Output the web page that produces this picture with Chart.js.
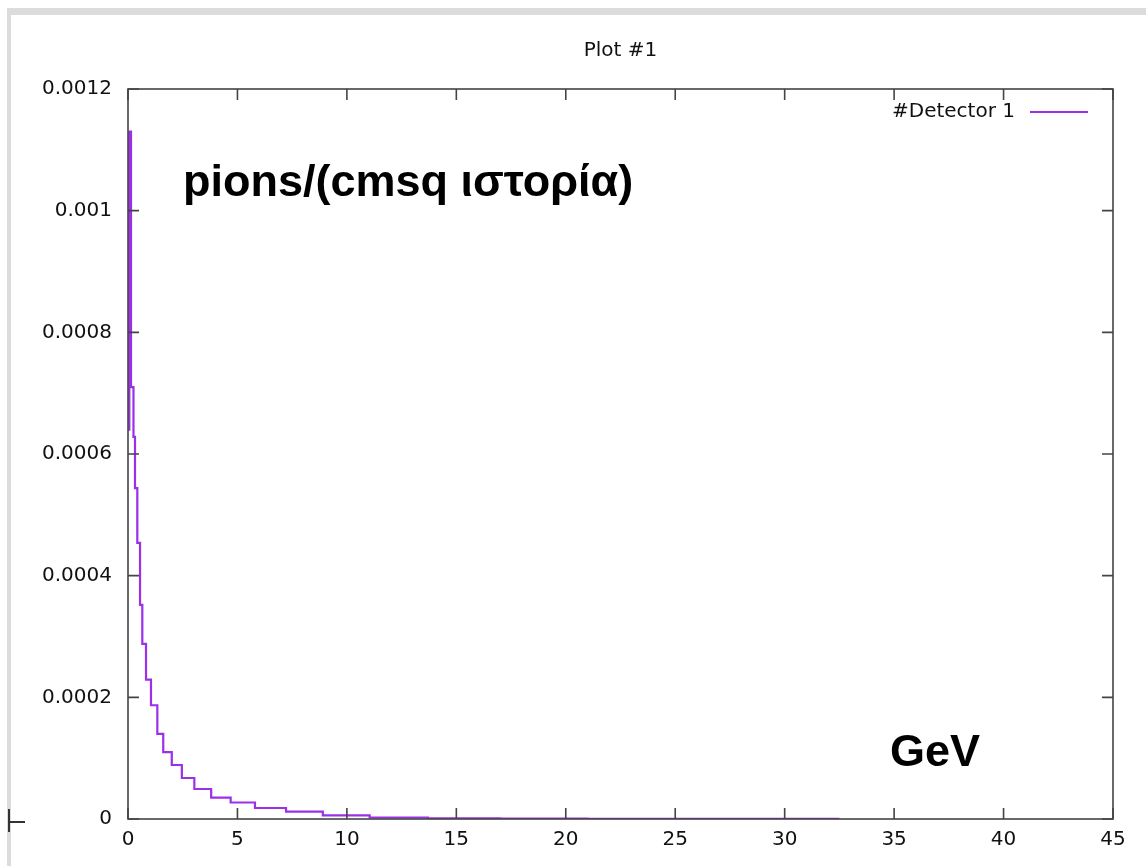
<!DOCTYPE html>
<html>
<head>
<meta charset="utf-8">
<script src="https://cdn.jsdelivr.net/npm/chart.js@4.4.1/dist/chart.umd.min.js"></script>
<style>
  html, body { margin: 0; padding: 0; background: #fff; }
  #wrap { width: 1146px; height: 866px; }
</style>
</head>
<body>
<div id="wrap"><canvas id="plot"></canvas></div>
<script>
// histogram bins (left edges, last entry is the right edge of the last bin)
const binEdges = [0.02, 0.06, 0.137, 0.25, 0.32, 0.425, 0.55, 0.654, 0.823, 1.05, 1.34, 1.61, 2.0, 2.46,
  3.03, 3.8, 4.69, 5.8, 7.22, 8.9, 11.04, 13.7, 17.0, 21.0, 26.2, 32.5];
const binValues = [0.00064, 0.00113, 0.00071, 0.000628, 0.000544, 0.000454, 0.000352, 0.000288, 0.000229,
  0.000187, 0.000140, 0.000110, 0.0000888, 0.0000674, 0.0000493, 0.0000353, 0.0000271, 0.0000181,
  0.0000120, 0.0000058, 0.0000025, 0.0000012, 0.0000007, 0.0000004, 0.0000002];
const xTickLabels = ['0', '5', '10', '15', '20', '25', '30', '35', '40', '45'];
const yTickLabels = ['0', '0.0002', '0.0004', '0.0006', '0.0008', '0.001', '0.0012'];
const seriesName = '#Detector 1';
const plotTitle = 'Plot #1';
const yLabel = 'pions/(cmsq ιστορία)';
const xLabel = 'GeV';

const lineColor = '#9b30e8';
const axisColor = '#444';
const textColor = '#111';

const points = binEdges.map((x, i) => ({ x: x, y: binValues[Math.min(i, binValues.length - 1)] }));

// gnuplot style frame: box, inward ticks on all sides, labels, legend
const gnuFrame = {
  id: 'gnuFrame',
  beforeDraw(chart) {
    const c = chart.ctx;
    c.save();
    c.fillStyle = '#fff';
    c.fillRect(0, 0, chart.width, chart.height);
    // window edges of the screenshot
    c.fillStyle = '#dcdcdc';
    c.fillRect(10, 8, chart.width - 10, 7);
    c.fillRect(7, 8, 4, chart.height - 8);
    c.restore();
  },
  afterDraw(chart) {
    const c = chart.ctx;
    const a = chart.chartArea;
    const xs = chart.scales.x, ys = chart.scales.y;
    c.save();
    c.strokeStyle = axisColor;
    c.lineWidth = 1.6;
    c.strokeRect(a.left, a.top, a.right - a.left, a.bottom - a.top);
    const tl = 11;
    c.beginPath();
    xs.ticks.forEach(t => {
      const px = xs.getPixelForValue(t.value);
      c.moveTo(px, a.bottom); c.lineTo(px, a.bottom - tl);
      c.moveTo(px, a.top); c.lineTo(px, a.top + tl);
    });
    ys.ticks.forEach(t => {
      const py = ys.getPixelForValue(t.value);
      c.moveTo(a.left, py); c.lineTo(a.left + tl, py);
      c.moveTo(a.right, py); c.lineTo(a.right - tl, py);
    });
    c.stroke();

    c.fillStyle = textColor;
    c.font = '20px "DejaVu Sans"';
    c.textAlign = 'center';
    c.textBaseline = 'middle';
    c.fillText(plotTitle, (a.left + a.right) / 2, 51);

    // legend
    c.textAlign = 'right';
    c.fillText(seriesName, a.right - 98, a.top + 23);
    c.strokeStyle = lineColor;
    c.lineWidth = 2.2;
    c.beginPath();
    c.moveTo(a.right - 83, a.top + 23);
    c.lineTo(a.right - 25, a.top + 23);
    c.stroke();

    // big labels
    c.fillStyle = '#000';
    c.font = 'bold 45px "Liberation Sans"';
    c.textAlign = 'left';
    c.textBaseline = 'alphabetic';
    c.fillText(yLabel, a.left + 55, a.top + 107);
    c.fillText(xLabel, a.left + 762, a.top + 677);

    // mouse cursor left in the screenshot
    c.strokeStyle = '#333';
    c.lineWidth = 2;
    c.beginPath();
    c.moveTo(9, 809); c.lineTo(9, 832);
    c.moveTo(9, 822); c.lineTo(25, 822);
    c.stroke();
    c.restore();
  }
};

new Chart(document.getElementById('plot').getContext('2d'), {
  type: 'line',
  data: {
    datasets: [{
      label: seriesName,
      data: points,
      borderColor: lineColor,
      borderWidth: 2.2,
      pointRadius: 0,
      stepped: 'before',
      fill: false
    }]
  },
  options: {
    responsive: true,
    maintainAspectRatio: false,
    animation: false,
    layout: { padding: { left: 0, top: 89, right: 33, bottom: 0 } },
    plugins: {
      legend: { display: false },
      title: { display: false },
      tooltip: { enabled: false }
    },
    scales: {
      x: {
        type: 'linear',
        min: 0,
        max: 45,
        ticks: {
          stepSize: 5,
          padding: 9,
          color: textColor,
          font: { family: 'DejaVu Sans', size: 20 },
          maxRotation: 0,
          callback: (v, i) => xTickLabels[i]
        },
        grid: { display: false, drawTicks: false },
        border: { display: false },
        afterFit: s => { s.height = 47; }
      },
      y: {
        min: 0,
        max: 0.0012,
        ticks: {
          stepSize: 0.0002,
          padding: 16,
          color: textColor,
          font: { family: 'DejaVu Sans', size: 20 },
          callback: (v, i) => yTickLabels[i]
        },
        grid: { display: false, drawTicks: false },
        border: { display: false },
        afterFit: s => { s.width = 128; }
      }
    }
  },
  plugins: [gnuFrame]
});
</script>
</body>
</html>
